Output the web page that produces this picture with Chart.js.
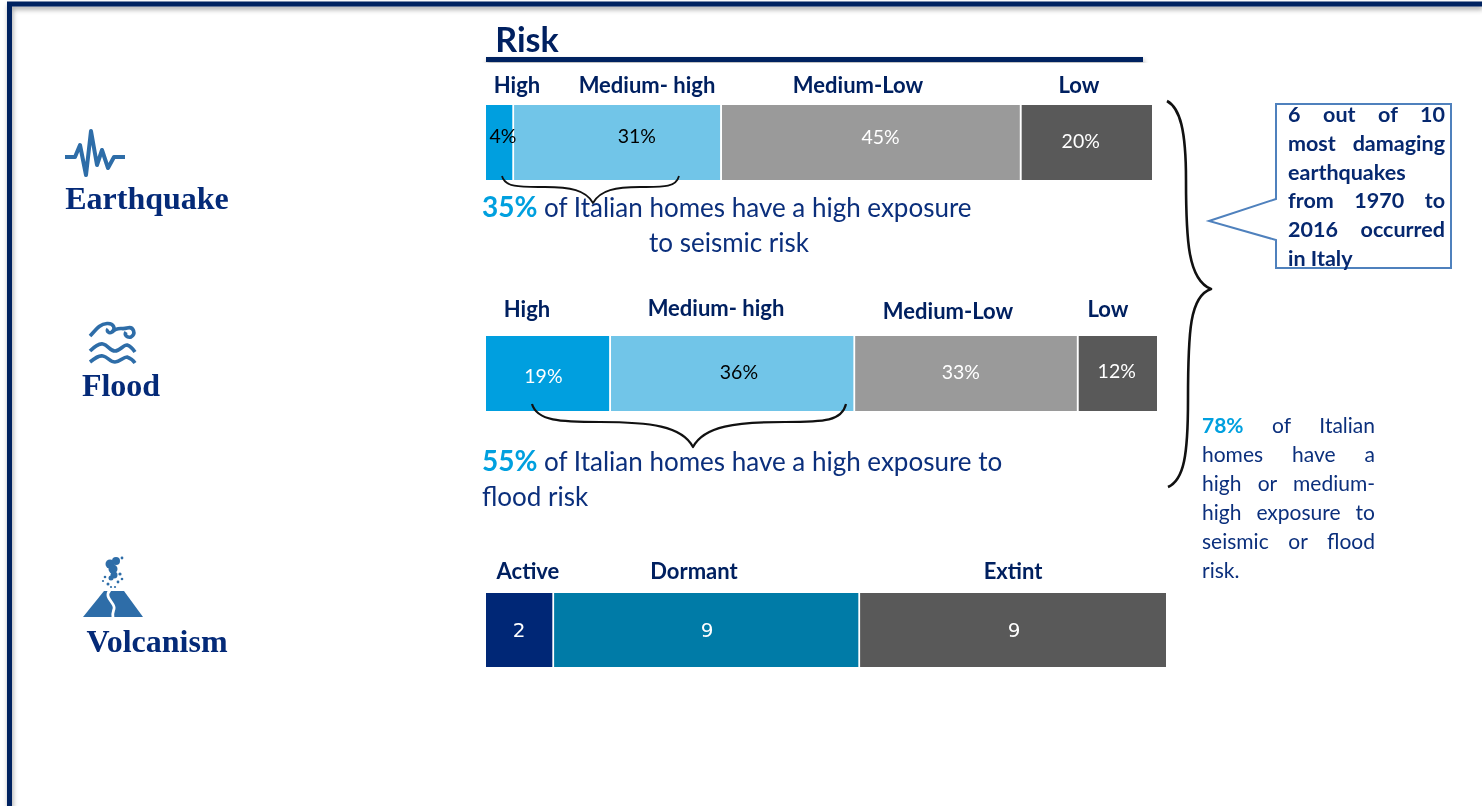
<!DOCTYPE html>
<html>
<head>
<meta charset="utf-8">
<title>Risk</title>
<script src="https://cdn.jsdelivr.net/npm/chart.js@4"></script>
<style>
  html, body { margin: 0; padding: 0; background: #fff; width: 1482px; height: 806px; overflow: hidden; }
  body { font-family: Lato, "Open Sans", sans-serif; color: #002060; position: relative; }
  canvas { position: absolute; }
  svg { position: absolute; left: 0; top: 0; }
  .t { position: absolute; white-space: nowrap; transform: translate(-50%, -50%); }
  .head { font-weight: 700; font-size: 22px; }
  .hazard { font-family: "Liberation Serif", serif; font-weight: 700; font-size: 32px; color: #042a78; }
  .note { position: absolute; white-space: nowrap; font-size: 26px; line-height: 32px; color: #0b2f7c; }
  .note b { color: #00a0df; font-size: 28px; }
  .just { position: absolute; }
  .just div { text-align: justify; text-align-last: justify; white-space: normal; }
  .just div.end { text-align-last: left; }
</style>
</head>
<body>
<canvas id="earthquakeChart" width="666" height="75" style="left:486px;top:105px"></canvas>
<canvas id="floodChart" width="671" height="75" style="left:486px;top:336px"></canvas>
<canvas id="volcanoChart" width="680" height="74" style="left:486px;top:593px"></canvas>

<svg width="1482" height="806" fill="none">
  <defs>
    <filter id="soft" x="-5%" y="-5%" width="110%" height="110%"><feDropShadow dx="1" dy="3" stdDeviation="2.5" flood-color="#000" flood-opacity="0.35"/></filter>
  </defs>
  <!-- cornice -->
  <path d="M1482 4H9.5V806" stroke="#002060" stroke-width="5" filter="url(#soft)"/>
  <!-- riga titolo -->
  <rect x="486" y="57" width="657" height="5" fill="#002060" filter="url(#soft)"/>

  <!-- icona terremoto -->
  <path d="M65 157H75L80 145L86 175L91 131L97 165L102 150L108 168L114 157H125" stroke="#2e6da8" stroke-width="4" stroke-linejoin="round"/>
  <!-- icona alluvione -->
  <g stroke="#2e6da8" stroke-width="3.6">
    <path d="M90 336C95 331 99 324 107 323.500C114 323 116 329 112 332C109 334 106 331 108 329"/>
    <path d="M112 332C118 326 122 330 127 328C134 326 136 334 131 337C127 338 124 335 126 332"/>
    <path d="M90 351C95 346 99 343 103 344C108 345 110 351 115 351C120 351 123 345 127 345C130 346 133 349 135 352"/>
    <path d="M90 362C95 358 99 355 103 356C108 357 110 362 115 362C120 362 123 357 127 357C130 358 133 360 135 363"/>
  </g>
  <!-- icona vulcano -->
  <path d="M83 617L104 591H124L143 617Z" fill="#2e6da8"/>
  <path d="M110 590C103 598 116 603 114 609C113 612 112 614 113 618" stroke="#fff" stroke-width="2.8"/>
  <g fill="#2e6da8">
    <circle cx="110" cy="564" r="4.500"/><circle cx="116" cy="561" r="4"/><circle cx="113" cy="569" r="4.500"/>
    <circle cx="114" cy="575" r="3.500"/><circle cx="111" cy="578" r="2.500"/>
    <circle cx="122" cy="558" r="1.4"/><circle cx="120" cy="574" r="1.6"/><circle cx="122" cy="579" r="1.3"/>
    <circle cx="105" cy="577" r="1.3"/><circle cx="103" cy="581" r="1.1"/><circle cx="108" cy="584" r="1.5"/>
    <circle cx="111" cy="587" r="1.1"/><circle cx="118" cy="582" r="1.4"/><circle cx="115" cy="587" r="1.1"/>
  </g>

  <!-- graffe -->
  <g stroke="#111" stroke-linejoin="round">
    <path d="M502 176C505 188 522 187 545 187C570 187 586 190 593 203C600 190 616 187 640 187C662 187 676 188 679 176" stroke-width="1.8"/>
    <path d="M532 404C537 421 560 422 600 422C650 422 682 426 693 447C704 426 736 422 785 422C825 422 842 421 846 404" stroke-width="2.2"/>
    <path d="M1167 101C1180 108 1186 130 1186 180C1186 240 1188 280 1211 289C1190 296 1188 330 1188 400C1188 455 1184 480 1168 487" stroke-width="2.6"/>
  </g>

  <!-- callout -->
  <path d="M1276 104H1451V268H1276V240L1209 221L1276 199Z" stroke="#4f81bd" stroke-width="2"/>
</svg>

<div class="t" style="left:527px;top:38px;font-size:34px;font-weight:700">Risk</div>

<div class="note" style="left:482px;top:190px"><b>35%</b> of Italian homes have a high exposure</div>
<div class="note" style="left:649px;top:226px">to seismic risk</div>
<div class="note" style="left:482px;top:444px"><b>55%</b> of Italian homes have a high exposure to</div>
<div class="note" style="left:482px;top:480px">flood risk</div>

<div class="just" style="left:1288px;top:100px;width:157px;font-weight:700;font-size:21.5px;line-height:28.8px;color:#06286f">
  <div>6 out of 10</div><div>most damaging</div><div class="end">earthquakes</div><div>from 1970 to</div><div>2016 occurred</div><div class="end">in Italy</div>
</div>
<div class="just" style="left:1202px;top:411px;width:173px;font-size:21px;line-height:28.9px;color:#0b2f7c">
  <div><b style="color:#00a0df">78%</b> of Italian</div><div>homes have a</div><div>high or medium-</div><div>high exposure to</div><div>seismic or flood</div><div class="end">risk.</div>
</div>

<script>
// Dati (larghezza dei segmenti, etichette arrotondate)
const earthquakeLabels = ['High', 'Medium- high', 'Medium-Low', 'Low'];
const earthquakeValues = [4.2, 31.2, 45, 19.6];
const floodLabels = ['High', 'Medium- high', 'Medium-Low', 'Low'];
const floodValues = [18.6, 36.4, 33.3, 11.7];
const volcanoLabels = ['Active', 'Dormant', 'Extint'];
const volcanoValues = [2, 9, 9];
const hazards = ['Earthquake', 'Flood', 'Volcanism'];

const riskColors = ['#009fdf', '#71c5e8', '#9a9a9a', '#595959'];
const volcanoColors = ['#002776', '#007ba7', '#595959'];

// Plugin per scrivere il valore dentro ogni segmento
const valueLabels = {
    id: 'valueLabels',
    afterDatasetsDraw(chart, args, opts) {
        const ctx = chart.ctx;
        ctx.save();
        ctx.font = opts.font;
        ctx.textAlign = 'center';
        ctx.textBaseline = 'middle';
        chart.data.datasets.forEach(function (ds, i) {
            const bar = chart.getDatasetMeta(i).data[0];
            const off = opts.offsets[i];
            ctx.fillStyle = opts.colors[i];
            ctx.fillText(opts.format(ds.data[0]), (bar.x + bar.base) / 2 + off[0], bar.y + off[1]);
        });
        ctx.restore();
    }
};

function stackedBar(id, labels, values, colors, labelOpts) {
    return new Chart(document.getElementById(id), {
        type: 'bar',
        data: {
            labels: [''],
            datasets: labels.map(function (label, i) {
                return {
                    label: label,
                    data: [values[i]],
                    backgroundColor: colors[i],
                    borderColor: '#fff',
                    borderWidth: { left: 0, top: 0, bottom: 0, right: i < labels.length - 1 ? 2 : 0 },
                    borderSkipped: false,
                    barPercentage: 1,
                    categoryPercentage: 1
                };
            })
        },
        options: {
            indexAxis: 'y',
            responsive: false,
            animation: false,
            layout: { padding: 0 },
            plugins: {
                legend: { display: false },
                tooltip: { enabled: false },
                valueLabels: labelOpts
            },
            scales: {
                x: { stacked: true, display: false, min: 0, max: values.reduce((a, b) => a + b, 0) },
                y: { stacked: true, display: false }
            }
        },
        plugins: [valueLabels]
    });
}

const pct = v => Math.round(v) + '%';

stackedBar('earthquakeChart', earthquakeLabels, earthquakeValues, riskColors, {
    font: '19.5px Lato',
    format: pct,
    colors: ['#000', '#000', '#fff', '#fff'],
    offsets: [[3, -6], [19, -6], [9, -5], [-6, -1]]
});
stackedBar('floodChart', floodLabels, floodValues, riskColors, {
    font: '19.5px Lato',
    format: pct,
    colors: ['#fff', '#000', '#fff', '#fff'],
    offsets: [[-5, 3], [6, -1], [-6, -1], [-1, -2]]
});
stackedBar('volcanoChart', volcanoLabels, volcanoValues, volcanoColors, {
    font: '20px "DejaVu Sans"',
    format: String,
    colors: ['#fff', '#fff', '#fff'],
    offsets: [[-1, 2], [0, 2], [1, 2]]
});

// Intestazioni dei segmenti e nomi dei rischi
function addText(cls, text, x, y) {
    const el = document.createElement('div');
    el.className = 't ' + cls;
    el.textContent = text;
    el.style.left = x + 'px';
    el.style.top = y + 'px';
    document.body.appendChild(el);
}
[517, 647, 858, 1079].forEach((x, i) => addText('head', earthquakeLabels[i], x, 84));
[527, 716, 948, 1108].forEach((x, i) => addText('head', floodLabels[i], x, [308, 307, 310, 308][i]));
[528, 694, 1013].forEach((x, i) => addText('head', volcanoLabels[i], x, 570));
[[147, 198], [121, 385], [157, 641]].forEach((p, i) => addText('hazard', hazards[i], p[0], p[1]));
</script>
</body>
</html>
